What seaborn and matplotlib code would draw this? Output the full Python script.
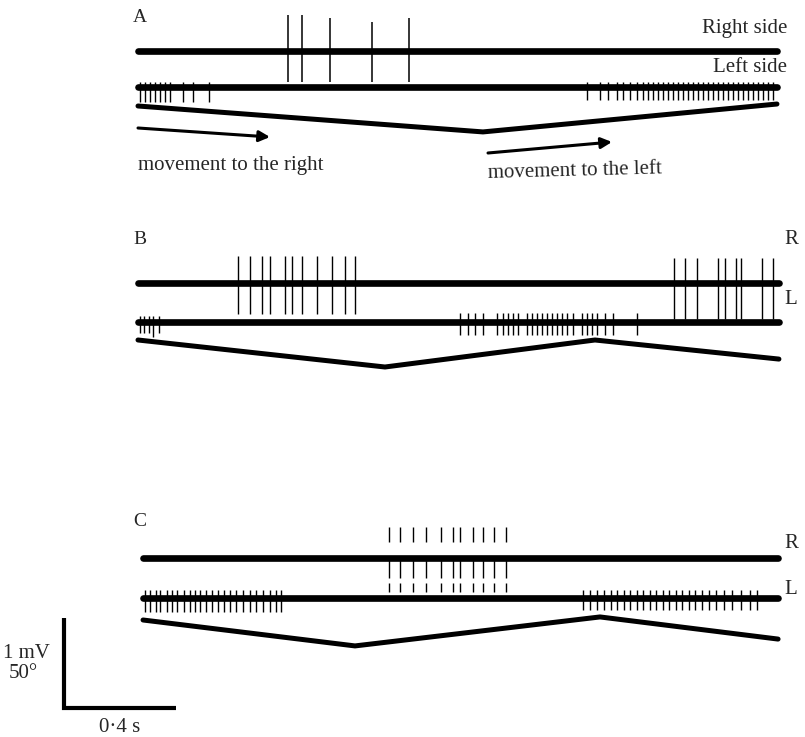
import numpy as np
import matplotlib
matplotlib.use("Agg")
import matplotlib.pyplot as plt
import seaborn as sns

# -----------------------------------------------------------
# Scales (same as the calibration bar): 0.4 s, 1 mV, 50 deg
# -----------------------------------------------------------
PX_PER_S = 280.0      # 0.4 s  -> 112 px
PX_PER_MV = 90.0      # 1 mV   -> 90 px
DEG_PER_MV = 50.0     # 50 deg -> same length as 1 mV

# -----------------------------------------------------------
# Data: spike times (s), amplitudes (mV), head position (deg)
# -----------------------------------------------------------
# Panel A
a_trace_span = [0.0, 2.282]
a_right_spikes = [0.536, 0.586, 0.686, 0.836, 0.968]
a_right_up = [0.40, 0.40, 0.37, 0.32, 0.37]
a_left_spikes_early = [0.007, 0.025, 0.043, 0.061, 0.079, 0.096, 0.114,
                       0.161, 0.196, 0.254]
a_left_spikes_late = [1.604, 1.650, 1.679, 1.711, 1.732, 1.757, 1.782,
                      1.804, 1.821, 1.839, 1.857, 1.875, 1.893, 1.911,
                      1.929, 1.946, 1.964, 1.982, 2.000, 2.018, 2.036,
                      2.054, 2.071, 2.089, 2.107, 2.125, 2.143, 2.161,
                      2.179, 2.196, 2.214, 2.232, 2.250, 2.268]
a_pos_t = [0.0, 1.232, 2.282]
a_pos_deg = [0.0, -14.4, 1.1]

# Panel B
b_trace_span = [0.0, 2.289]
b_right_spikes_1 = [0.357, 0.400, 0.443, 0.471, 0.525, 0.550, 0.586,
                    0.639, 0.693, 0.739, 0.775]
b_right_spikes_2 = [1.914, 1.954, 1.996, 2.071, 2.096, 2.136, 2.154,
                    2.229, 2.268]
b_left_spikes_early = [0.007, 0.021, 0.039, 0.054, 0.075]
b_left_early_down = [0.12, 0.12, 0.12, 0.17, 0.12]
b_left_spikes_mid = [1.150, 1.179, 1.204, 1.232, 1.282, 1.304, 1.321,
                     1.339, 1.357, 1.389, 1.407, 1.425, 1.443, 1.461,
                     1.479, 1.496, 1.514, 1.532, 1.554, 1.586, 1.604,
                     1.621, 1.639, 1.668, 1.696, 1.782]
b_pos_t = [0.0, 0.882, 1.632, 2.289]
b_pos_deg = [0.0, -15.0, 0.0, -10.6]

# Panel C
c_trace_span = [0.018, 2.286]
c_right_spikes = [0.896, 0.936, 0.982, 1.029, 1.082, 1.125, 1.150,
                  1.196, 1.232, 1.271, 1.314]
c_left_spikes_early = [0.025, 0.043, 0.064, 0.079, 0.104, 0.121, 0.139,
                       0.164, 0.186, 0.204, 0.221, 0.243, 0.264, 0.286,
                       0.307, 0.329, 0.350, 0.375, 0.400, 0.421, 0.446,
                       0.471, 0.493, 0.511]
c_left_spikes_late = [1.589, 1.614, 1.639, 1.664, 1.689, 1.711, 1.736,
                      1.757, 1.782, 1.804, 1.829, 1.850, 1.875, 1.896,
                      1.921, 1.943, 1.968, 1.989, 2.014, 2.039, 2.064,
                      2.093, 2.121, 2.154, 2.186, 2.211]
c_pos_t = [0.018, 0.775, 1.650, 2.286]
c_pos_deg = [0.0, -14.4, 1.7, -10.6]

# calibration bar
bar_time = 0.4
bar_mv = 1.0


# -----------------------------------------------------------
# Layout helpers: page pixel -> axis units (s, mV)
# -----------------------------------------------------------
def lx(px):
    return (px - 138) / PX_PER_S


def ly(py):
    return (737 - py) / PX_PER_MV


sns.set_theme(style="white")
plt.rcParams['font.family'] = ['Liberation Serif', 'DejaVu Serif']

fig = plt.figure(figsize=(8.05, 7.37), dpi=100)
ax = fig.add_axes([0, 0, 1, 1])
ax.set_xlim(lx(0), lx(805))
ax.set_ylim(ly(737), ly(0))
ax.set_axis_off()

TRACE_LW = 4.8
POS_LW = 3.6
SPIKE_LW = 1.0


def baseline(span, base):
    sns.lineplot(x=span, y=[base, base], ax=ax, color='black', lw=TRACE_LW,
                 estimator=None, sort=False, legend=False)


def position(t, deg, base):
    y = base + np.asarray(deg) / DEG_PER_MV
    sns.lineplot(x=t, y=y, ax=ax, color='black', lw=POS_LW,
                 estimator=None, sort=False, legend=False)


def spikes(times, base, lo, hi, lw=SPIKE_LW):
    ax.vlines(times, base + np.asarray(lo), base + np.asarray(hi),
              color='black', lw=lw)


# ---------------- Panel A ----------------
a_r, a_l, a_p = ly(51), ly(87), ly(106)
spikes(a_right_spikes, a_r, -0.34, a_right_up, lw=1.1)
baseline(a_trace_span, a_r)
baseline(a_trace_span, a_l)
spikes(a_left_spikes_early, a_l, -0.17, 0.05)
spikes(a_left_spikes_late, a_l, -0.14, 0.05)
position(a_pos_t, a_pos_deg, a_p)

ax.annotate('', xy=(lx(270), ly(137)), xytext=(lx(138), ly(128)),
            arrowprops=dict(arrowstyle='-|>', color='black', lw=2.2,
                            mutation_scale=16, shrinkA=0, shrinkB=0))
ax.annotate('', xy=(lx(612), ly(142)), xytext=(lx(488), ly(153)),
            arrowprops=dict(arrowstyle='-|>', color='black', lw=2.2,
                            mutation_scale=16, shrinkA=0, shrinkB=0))
ax.text(lx(138), ly(166), 'movement to the right', fontsize=15,
        ha='left', va='center')
ax.text(lx(488), ly(171), 'movement to the left', fontsize=15,
        ha='left', va='center', rotation=1.5)
ax.text(lx(787), ly(29), 'Right side', fontsize=15, ha='right', va='center')
ax.text(lx(787), ly(68), 'Left side', fontsize=15, ha='right', va='center')
ax.text(lx(140), ly(18), 'A', fontsize=14, ha='center', va='center')

# ---------------- Panel B ----------------
b_r, b_l, b_p = ly(283), ly(322), ly(340)
spikes(b_right_spikes_1, b_r, -0.35, 0.30)
spikes(b_right_spikes_2, b_r, -0.40, 0.28)
baseline(b_trace_span, b_r)
baseline(b_trace_span, b_l)
spikes(b_left_spikes_early, b_l, -np.asarray(b_left_early_down), 0.07)
spikes(b_left_spikes_mid, b_l, -0.14, 0.10)
position(b_pos_t, b_pos_deg, b_p)
ax.text(lx(140), ly(240), 'B', fontsize=14, ha='center', va='center')
ax.text(lx(784), ly(240), 'R', fontsize=15, ha='left', va='center')
ax.text(lx(784), ly(300), 'L', fontsize=15, ha='left', va='center')

# ---------------- Panel C ----------------
c_r, c_l, c_p = ly(558), ly(598), ly(620)
spikes(c_right_spikes, c_r, 0.18, 0.35)       # faint upper part
spikes(c_right_spikes, c_r, -0.22, 0.0)
spikes(c_right_spikes, c_r, -0.38, -0.28)
baseline(c_trace_span, c_r)
baseline(c_trace_span, c_l)
spikes(c_left_spikes_early, c_l, -0.16, 0.09)
spikes(c_left_spikes_late, c_l, -0.13, 0.09)
position(c_pos_t, c_pos_deg, c_p)
ax.text(lx(140), ly(522), 'C', fontsize=14, ha='center', va='center')
ax.text(lx(784), ly(543), 'R', fontsize=15, ha='left', va='center')
ax.text(lx(784), ly(590), 'L', fontsize=15, ha='left', va='center')

# ---------------- Calibration ----------------
x0, y0 = lx(64), ly(708)
ax.plot([x0, x0, x0 + bar_time], [y0 + bar_mv, y0, y0], color='black',
        lw=3.0, solid_joinstyle='miter', solid_capstyle='butt')
ax.text(lx(50), ly(653), '1 mV', fontsize=15, ha='right', va='center')
ax.text(lx(38), ly(674), '50°', fontsize=15, ha='right', va='center')
ax.text(x0 + bar_time / 2, ly(727), '0·4 s', fontsize=15,
        ha='center', va='center')

fig.savefig('out.png', dpi=100)
